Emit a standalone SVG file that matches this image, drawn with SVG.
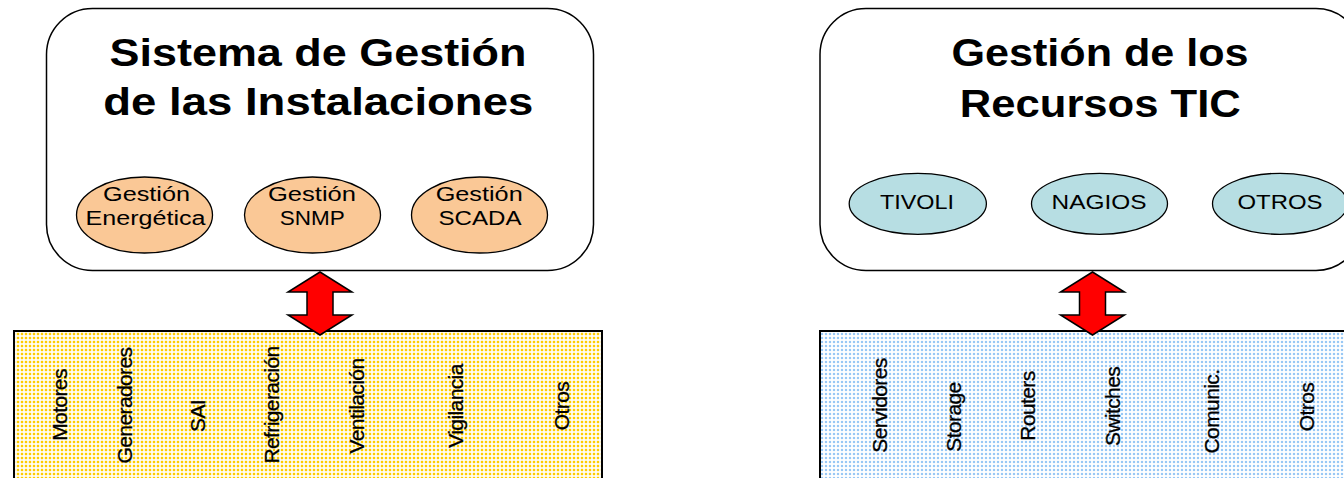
<svg xmlns="http://www.w3.org/2000/svg" width="1344" height="478" viewBox="0 0 1344 478">
  <defs>
    <pattern id="dotsY" x="0" y="0" width="4" height="4" patternUnits="userSpaceOnUse">
      <rect x="0.8" y="0.8" width="2.4" height="2.4" fill="#FFCC00"/>
    </pattern>
    <pattern id="dotsB" x="0" y="0" width="4" height="4" patternUnits="userSpaceOnUse">
      <rect x="0.9" y="0.9" width="2.2" height="2.2" fill="#99C8F5"/>
    </pattern>
    <style>
      .box { fill: #FFFFFF; stroke: #000000; stroke-width: 1.5; }
      .panel { stroke: #000000; stroke-width: 2; }
      .ellO { fill: #FAC896; stroke: #000000; stroke-width: 1.3; }
      .ellB { fill: #B7DEE3; stroke: #000000; stroke-width: 1.3; }
      .title { font-family: "Liberation Sans", Arial, sans-serif; font-weight: bold; font-size: 38px; fill: #000000; text-anchor: middle; }
      .lbl { font-family: "Liberation Sans", Arial, sans-serif; font-size: 19.5px; fill: #000000; text-anchor: middle; }
      .vlbl { font-family: "Liberation Sans", Arial, sans-serif; font-size: 21px; letter-spacing: -0.6px; fill: #000000; text-anchor: middle; stroke: #000000; stroke-width: 0.3; }
      .arrow { fill: #FF0000; stroke: #000000; stroke-width: 1.5; stroke-linejoin: miter; }
    </style>
  </defs>

  <rect width="1344" height="478" fill="#FFFFFF"/>

  <!-- Left top: Sistema de Gestión de las Instalaciones -->
  <g id="sgi">
    <rect class="box" x="46.5" y="8.5" width="547" height="262" rx="46" ry="46"/>
    <text class="title" x="318" y="65.7" textLength="417" lengthAdjust="spacingAndGlyphs">Sistema de Gestión</text>
    <text class="title" x="318.3" y="115" textLength="430" lengthAdjust="spacingAndGlyphs">de las Instalaciones</text>
  </g>
  <g id="gestion-energetica">
    <ellipse class="ellO" cx="144.5" cy="215" rx="68" ry="38"/>
    <text class="lbl" x="146.5" y="201" textLength="87" lengthAdjust="spacingAndGlyphs">Gestión</text>
    <text class="lbl" x="145.5" y="225" textLength="120" lengthAdjust="spacingAndGlyphs">Energética</text>
  </g>
  <g id="gestion-snmp">
    <ellipse class="ellO" cx="312.5" cy="215" rx="68" ry="38"/>
    <text class="lbl" x="312" y="201" textLength="88" lengthAdjust="spacingAndGlyphs">Gestión</text>
    <text class="lbl" x="312.3" y="225" textLength="65" lengthAdjust="spacingAndGlyphs">SNMP</text>
  </g>
  <g id="gestion-scada">
    <ellipse class="ellO" cx="479.5" cy="215" rx="68" ry="38"/>
    <text class="lbl" x="479.2" y="201" textLength="87" lengthAdjust="spacingAndGlyphs">Gestión</text>
    <text class="lbl" x="480" y="225" textLength="83" lengthAdjust="spacingAndGlyphs">SCADA</text>
  </g>

  <!-- Right top: Gestión de los Recursos TIC -->
  <g id="grtic">
    <rect class="box" x="820" y="8.5" width="542" height="262" rx="46" ry="46"/>
    <text class="title" x="1100" y="65.7" textLength="297" lengthAdjust="spacingAndGlyphs">Gestión de los</text>
    <text class="title" x="1100.3" y="116.7" textLength="281" lengthAdjust="spacingAndGlyphs">Recursos TIC</text>
  </g>
  <g id="tivoli">
    <ellipse class="ellB" cx="917.8" cy="203.8" rx="68.6" ry="30.5"/>
    <text class="lbl" x="917" y="209.3" font-size="20" textLength="74" lengthAdjust="spacingAndGlyphs">TIVOLI</text>
  </g>
  <g id="nagios">
    <ellipse class="ellB" cx="1099.5" cy="203.8" rx="68" ry="30.5"/>
    <text class="lbl" x="1099" y="209.3" font-size="20" textLength="95" lengthAdjust="spacingAndGlyphs">NAGIOS</text>
  </g>
  <g id="otros-tic">
    <ellipse class="ellB" cx="1280" cy="203.8" rx="67.5" ry="30.5"/>
    <text class="lbl" x="1280" y="209.3" font-size="20" textLength="85" lengthAdjust="spacingAndGlyphs">OTROS</text>
  </g>

  <!-- Left bottom panel: installations -->
  <g id="instalaciones">
    <rect x="14" y="331" width="588" height="160" fill="#FFFFFF"/>
    <rect class="panel" x="14" y="331" width="588" height="160" fill="url(#dotsY)"/>
    <text class="vlbl" transform="translate(66.5,405) rotate(-90)">Motores</text>
    <text class="vlbl" transform="translate(131.5,405.5) rotate(-90)">Generadores</text>
    <text class="vlbl" transform="translate(205,416) rotate(-90)">SAI</text>
    <text class="vlbl" transform="translate(278.5,405) rotate(-90)">Refrigeración</text>
    <text class="vlbl" transform="translate(364,406) rotate(-90)">Ventilación</text>
    <text class="vlbl" transform="translate(462.5,406) rotate(-90)">Vigilancia</text>
    <text class="vlbl" transform="translate(569,406) rotate(-90)">Otros</text>
  </g>

  <!-- Right bottom panel: ICT resources -->
  <g id="recursos">
    <rect x="820" y="331" width="540" height="160" fill="#FFFFFF"/>
    <rect class="panel" x="820" y="331" width="540" height="160" fill="url(#dotsB)"/>
    <text class="vlbl" transform="translate(887,405.5) rotate(-90)">Servidores</text>
    <text class="vlbl" transform="translate(960.5,417) rotate(-90)">Storage</text>
    <text class="vlbl" transform="translate(1034.5,406) rotate(-90)">Routers</text>
    <text class="vlbl" transform="translate(1120,406.5) rotate(-90)">Switches</text>
    <text class="vlbl" transform="translate(1219,411.5) rotate(-90)">Comunic.</text>
    <text class="vlbl" transform="translate(1313.5,407) rotate(-90)">Otros</text>
  </g>

  <!-- Connectors: double arrows -->
  <g id="connectors">
    <polygon class="arrow" points="320,272 352,292 333,292 333,315 352,315 320,335 288,315 307,315 307,292 288,292"/>
    <polygon class="arrow" points="1092.5,272 1124.5,292 1105.5,292 1105.5,315 1124.5,315 1092.5,335 1060.5,315 1079.5,315 1079.5,292 1060.5,292"/>
  </g>
</svg>
